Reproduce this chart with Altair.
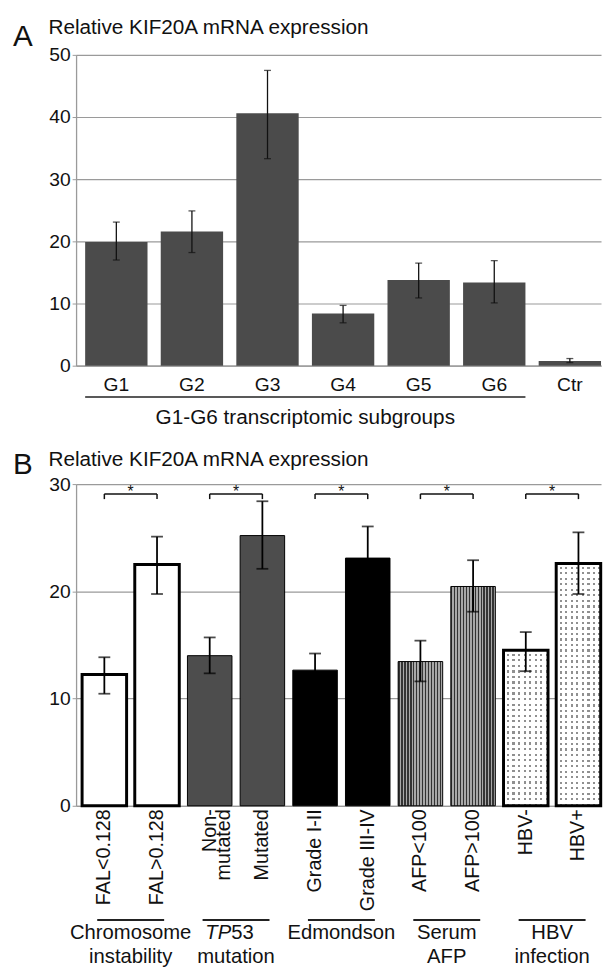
import altair as alt
import pandas as pd

FONT = "Liberation Sans"
INK = "#111111"
GRID = "#9a9a9a"

# ---------------- Panel A data ----------------
A_LETTER = "A"
A_TITLE = "Relative KIF20A mRNA expression"
a_groups = ["G1", "G2", "G3", "G4", "G5", "G6", "Ctr"]
a_mean = [19.9, 21.6, 40.6, 8.4, 13.8, 13.4, 0.75]
a_low = [17.0, 18.2, 33.3, 6.9, 10.9, 10.1, 0.5]
a_high = [23.1, 24.9, 47.5, 9.7, 16.5, 16.9, 1.15]
a_ticks = [0, 10, 20, 30, 40, 50]
a_span_start = ["G1"]
a_span_end = ["G6"]
a_span_mid = ["G3"]
a_span_label = ["G1-G6 transcriptomic subgroups"]

# ---------------- Panel B data ----------------
B_LETTER = "B"
B_TITLE = "Relative KIF20A mRNA expression"
b_groups = ["FAL<0.128", "FAL>0.128", "Non-mutated", "Mutated", "Grade I-II",
            "Grade III-IV", "AFP<100", "AFP>100", "HBV-", "HBV+"]
b_mean = [12.25, 22.5, 14.0, 25.2, 12.65, 23.1, 13.45, 20.45, 14.5, 22.6]
b_low = [10.45, 19.75, 12.35, 22.1, 11.1, 20.2, 11.6, 18.1, 12.55, 19.75]
b_high = [13.85, 25.1, 15.7, 28.4, 14.2, 26.05, 15.4, 22.9, 16.2, 25.5]
b_ticks = [0, 10, 20, 30]
fam_left = ["FAL<0.128", "Non-mutated", "Grade I-II", "AFP<100", "HBV-"]
fam_right = ["FAL>0.128", "Mutated", "Grade III-IV", "AFP>100", "HBV+"]
fam_italic = ["", "TP", "", "", ""]
fam_line1 = ["Chromosome", "53", "Edmondson", "Serum", "HBV"]
fam_line2 = ["instability", "mutation", "", "AFP", "infection"]
sig_text = ["*", "*", "*", "*", "*"]
sig_level = [29.08, 29.08, 29.08, 29.08, 29.08]
sig_foot = [28.6, 28.6, 28.6, 28.6, 28.6]

style_open = ["FAL<0.128", "FAL>0.128"]
style_grey = ["Non-mutated", "Mutated"]
style_black = ["Grade I-II", "Grade III-IV"]
style_striped = ["AFP<100", "AFP>100"]
style_dotted = ["HBV-", "HBV+"]

# ---------------- layout ----------------
WA, HA = 532, 315
WB, HB = 532, 326
A_PI, A_PO = 0.175, 0.06
B_PI, B_PO = 0.155, 0.06
A_STEP = WA / (len(a_groups) - A_PI + 2 * A_PO)
B_STEP = WB / (len(b_groups) - B_PI + 2 * B_PO)
A_HALFGAP = A_STEP * A_PI / 2
B_HALFGAP = B_STEP * B_PI / 2

df_a = pd.DataFrame({"group": a_groups, "mean": a_mean, "low": a_low, "high": a_high})
df_b = pd.DataFrame({"group": b_groups, "mean": b_mean, "low": b_low, "high": b_high})
df_fam = pd.DataFrame({"left": fam_left, "right": fam_right, "italic": fam_italic,
                       "line1": fam_line1, "line2": fam_line2, "sig": sig_text,
                       "level": sig_level, "foot": sig_foot})
df_feet = pd.DataFrame({"group": fam_left + fam_right, "foot": sig_foot + sig_foot,
                        "level": sig_level + sig_level})

xa = alt.Scale(domain=a_groups, paddingInner=A_PI, paddingOuter=A_PO, align=1)
ya = alt.Scale(domain=[0, 50], nice=False)
xb = alt.Scale(domain=b_groups, paddingInner=B_PI, paddingOuter=B_PO, align=0.95)
yb = alt.Scale(domain=[0, 30], nice=False)


def y_axis(vals):
    return alt.Axis(title=None, values=vals, grid=True, gridColor=GRID, gridWidth=1.2,
                    domainColor=GRID, domainWidth=1.3, tickColor=GRID, tickSize=4,
                    labelFontSize=19.5, labelFont=FONT, labelColor=INK, labelPadding=2)


def text_layer(txt, x, y, size, baseline="alphabetic"):
    return alt.Chart(pd.DataFrame({"t": [txt]})).mark_text(
        align="left", baseline=baseline, fontSize=size, font=FONT, color=INK
    ).encode(x=alt.value(x), y=alt.value(y), text="t:N")


def stripes(n, c_on, c_off, frac_on, vertical=True):
    stops = []
    for i in range(n):
        a = i / n
        b = (i + frac_on) / n
        c = (i + 1) / n
        stops += [(a, c_on), (b, c_on), (b, c_off), (c, c_off)]
    if vertical:
        return alt.Gradient(gradient="linear", x1=0, y1=0, x2=1, y2=0,
                            stops=[alt.GradientStop(offset=o, color=c) for o, c in stops])
    return alt.Gradient(gradient="linear", x1=0, y1=0, x2=0, y2=1,
                        stops=[alt.GradientStop(offset=o, color=c) for o, c in stops])


def X(field, scale, **kw):
    return alt.X(field, scale=scale, title=None, **kw)


def Y(field, scale):
    return alt.Y(field, scale=scale, title=None)


# ================= Panel A =================
base_a = alt.Chart(df_a)
bars_a = base_a.mark_bar(color="#4b4b4b").encode(
    x=alt.X("group:N", scale=xa, title=None,
            axis=alt.Axis(title=None, labelAngle=0, labelFontSize=19.5, labelFont=FONT,
                          labelColor=INK, ticks=False, domainColor=GRID, domainWidth=1.3,
                          labelPadding=10, grid=False)),
    y=alt.Y("mean:Q", scale=ya, title=None, axis=y_axis(a_ticks)),
)
err_a = base_a.mark_rule(color=INK, strokeWidth=1.3).encode(
    x=X("group:N", xa), y=Y("low:Q", ya), y2="high:Q")
cap_lo_a = base_a.mark_tick(color=INK, thickness=1.3, size=7).encode(
    x=X("group:N", xa), y=Y("low:Q", ya))
cap_hi_a = base_a.mark_tick(color=INK, thickness=1.3, size=7).encode(
    x=X("group:N", xa), y=Y("high:Q", ya))

df_span = pd.DataFrame({"s": a_span_start, "e": a_span_end, "m": a_span_mid, "t": a_span_label})
span_line = alt.Chart(df_span).mark_rule(color="#222222", strokeWidth=1.7).encode(
    x=X("s:N", xa, bandPosition=0),
    x2=alt.X2("e", bandPosition=1),
    y=alt.value(346.7))
span_text = alt.Chart(df_span).mark_text(fontSize=21, font=FONT, color=INK, baseline="middle",
                                          dx=A_HALFGAP).encode(
    x=X("m:N", xa, bandPosition=1),
    y=alt.value(367.7), text="t:N")

panel_a = alt.layer(
    bars_a, err_a, cap_lo_a, cap_hi_a, span_line, span_text,
    text_layer(A_LETTER, -64, -9.3, 30),
    text_layer(A_TITLE, -28, -21, 21),
).properties(width=WA, height=HA)

# ================= Panel B =================
base_b = alt.Chart(df_b)
XB = X("group:N", xb)
YB = Y("mean:Q", yb)


def filt(ch, cats):
    return ch.transform_filter(alt.FieldOneOfPredicate(field="group", oneOf=cats))


bars_open = filt(base_b, style_open).mark_bar(fill="#ffffff", stroke="#000000", strokeWidth=3).encode(
    x=alt.X("group:N", scale=xb, title=None,
            axis=alt.Axis(title=None, labelAngle=-90, labelFontSize=20, labelFont=FONT,
                          labelColor=INK, ticks=False, domainColor=GRID, domainWidth=1.3,
                          labelPadding=3, labelLineHeight=15, grid=False,
                          labelExpr="datum.label == 'Non-mutated' ? ['Non-', 'mutated'] : datum.label")),
    y=alt.Y("mean:Q", scale=yb, title=None, axis=y_axis(b_ticks)),
)
bars_grey = filt(base_b, style_grey).mark_bar(fill="#4d4d4d", stroke="#000000", strokeWidth=1).encode(x=XB, y=YB)
bars_black = filt(base_b, style_black).mark_bar(fill="#000000", stroke="#000000", strokeWidth=1).encode(x=XB, y=YB)
bars_striped = filt(base_b, style_striped).mark_bar(
    fill=stripes(15, "#333333", "#a8a8a8", 0.5), stroke="#000000", strokeWidth=1).encode(x=XB, y=YB)

dot_layers = []
for cat, val in zip(b_groups, b_mean):
    if cat not in style_dotted:
        continue
    rows = max(1, round(val * HB / 30 / 5.6))
    sub = base_b.transform_filter(alt.FieldEqualPredicate(field="group", equal=cat))
    dot_layers.append(sub.mark_bar(fill=stripes(8, "#ffffff", "#909090", 0.6)).encode(x=XB, y=YB))
    dot_layers.append(sub.mark_bar(fill=stripes(rows, "rgba(255,255,255,1)", "rgba(255,255,255,0)", 0.6,
                                                vertical=False)).encode(x=XB, y=YB))
bars_dot_outline = filt(base_b, style_dotted).mark_bar(
    fillOpacity=0, stroke="#000000", strokeWidth=3).encode(x=XB, y=YB)

err_b = base_b.mark_rule(color="#000000", strokeWidth=1.8).encode(
    x=XB, y=Y("low:Q", yb), y2="high:Q")
cap_lo_b = base_b.mark_tick(color="#000000", thickness=1.8, size=12).encode(
    x=XB, y=Y("low:Q", yb))
cap_hi_b = base_b.mark_tick(color="#000000", thickness=1.8, size=12).encode(
    x=XB, y=Y("high:Q", yb))

fam = alt.Chart(df_fam)
br_line = fam.mark_rule(color="#111111", strokeWidth=1.5).encode(
    x=X("left:N", xb), x2=alt.X2("right"), y=Y("level:Q", yb))
br_feet = alt.Chart(df_feet).mark_rule(color="#111111", strokeWidth=1.5).encode(
    x=XB, y=Y("foot:Q", yb), y2="level:Q")
stars = fam.mark_text(fontSize=16, font=FONT, color=INK, baseline="alphabetic", dy=3.5,
                      dx=B_HALFGAP).encode(
    x=X("left:N", xb, bandPosition=1), y=Y("level:Q", yb), text="sig:N")

grp_line = fam.mark_rule(color="#222222", strokeWidth=2).encode(
    x=X("left:N", xb, bandPosition=0.34),
    x2=alt.X2("right", bandPosition=0.66),
    y=alt.value(441.7))
XM = X("left:N", xb, bandPosition=1)
grp_t1 = fam.transform_filter(alt.datum.italic == "").mark_text(
    fontSize=20.5, font=FONT, color=INK, baseline="middle", dx=B_HALFGAP).encode(
    x=XM, y=alt.value(454.7), text="line1:N")
grp_t1_it = fam.transform_filter(alt.datum.italic != "").mark_text(
    fontSize=20.5, font=FONT, color=INK, baseline="middle", align="right", fontStyle="italic",
    dx=B_HALFGAP - 4.9).encode(
    x=XM, y=alt.value(454.7), text="italic:N")
grp_t1_pl = fam.transform_filter(alt.datum.italic != "").mark_text(
    fontSize=20.5, font=FONT, color=INK, baseline="middle", align="left",
    dx=B_HALFGAP - 4.9).encode(
    x=XM, y=alt.value(454.7), text="line1:N")
grp_t2 = fam.mark_text(fontSize=20.5, font=FONT, color=INK, baseline="middle", dx=B_HALFGAP).encode(
    x=XM, y=alt.value(479.7), text="line2:N")

panel_b = alt.layer(
    bars_open, bars_grey, bars_black, bars_striped, *dot_layers, bars_dot_outline,
    err_b, cap_lo_b, cap_hi_b, br_line, br_feet, stars,
    grp_line, grp_t1, grp_t1_it, grp_t1_pl, grp_t2,
    text_layer(B_LETTER, -64, -10.3, 30),
    text_layer(B_TITLE, -28, -18.3, 21),
).properties(width=WB, height=HB)

chart = alt.vconcat(panel_a, panel_b, spacing=21).properties(
    padding={"left": 5, "top": 3, "right": 0, "bottom": 0}
).configure(font=FONT, view=alt.ViewConfig(strokeWidth=0))

chart.save("out.html", embed_options={"renderer": "svg", "actions": False})
